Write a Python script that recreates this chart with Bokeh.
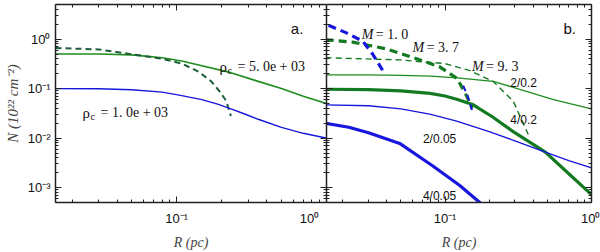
from bokeh.plotting import figure
from bokeh.models import LogAxis, FixedTicker, Range1d, CustomJSTickFormatter
from bokeh.layouts import row
from bokeh.core.properties import value
from bokeh.embed import file_html
from bokeh.resources import INLINE

# ---------------- data ----------------
# panel a
R_a_hi = [0.0155, 0.03, 0.05, 0.08, 0.108, 0.147, 0.23, 0.35, 0.5, 0.7, 1.0]
N_a_hi = [0.50, 0.50, 0.48, 0.42, 0.36, 0.29, 0.21, 0.14, 0.10, 0.07, 0.05]
R_a_hi_dash = [0.0155, 0.03, 0.059, 0.08, 0.108, 0.14, 0.17, 0.195, 0.214, 0.23]
N_a_hi_dash = [0.66, 0.62, 0.46, 0.40, 0.32, 0.22, 0.14, 0.085, 0.056, 0.028]
R_a_lo = [0.0155, 0.03, 0.05, 0.08, 0.108, 0.147, 0.19, 0.23, 0.29, 0.35, 0.5, 0.7, 1.0]
N_a_lo = [0.10, 0.099, 0.095, 0.085, 0.072, 0.06, 0.048, 0.039, 0.030, 0.024, 0.0165, 0.0125, 0.01]

# panel b
R_m1 = [0.0160, 0.021, 0.0274, 0.032, 0.0376]
N_m1 = [1.9, 1.35, 0.91, 0.5, 0.23]
R_m1b = [0.133, 0.143, 0.153]
N_m1b = [0.115, 0.07, 0.036]
R_m37 = [0.0153, 0.0234, 0.040, 0.064, 0.092, 0.121, 0.14, 0.153]
N_m37 = [0.97, 0.87, 0.63, 0.40, 0.275, 0.16, 0.072, 0.04]
R_m93 = [0.0153, 0.049, 0.1, 0.148, 0.213, 0.292, 0.37]
N_m93 = [0.42, 0.38, 0.32, 0.23, 0.14, 0.056, 0.0118]
R_2_02 = [0.0153, 0.03, 0.05, 0.08, 0.121, 0.213, 0.35, 0.55, 1.0]
N_2_02 = [0.19, 0.19, 0.185, 0.178, 0.165, 0.14, 0.09, 0.06, 0.039]
R_4_02 = [0.0153, 0.03, 0.05, 0.079, 0.1, 0.12, 0.156, 0.21, 0.292, 0.484, 0.7, 1.0]
N_4_02 = [0.097, 0.095, 0.09, 0.08, 0.071, 0.061, 0.047, 0.027, 0.0135, 0.0052, 0.0019, 0.00072]
R_2_005 = [0.0153, 0.03, 0.05, 0.08, 0.12, 0.2, 0.3, 0.484, 0.7, 1.0]
N_2_005 = [0.047, 0.045, 0.039, 0.03, 0.022, 0.0135, 0.0088, 0.0052, 0.0035, 0.0025]
R_4_005 = [0.0153, 0.022, 0.03, 0.049, 0.083, 0.126, 0.18]
N_4_005 = [0.020, 0.0166, 0.0128, 0.0078, 0.0027, 0.0011, 0.00045]

# axes
X_LO, X_HI = 0.0155, 1.0
Y_LO, Y_HI = 5e-4, 5.0
X_MAJOR = [0.01, 0.1, 1.0]
X_MINOR = [m * 10.0 ** e for e in (-2, -1) for m in range(2, 10)]
Y_MAJOR = [1e-3, 1e-2, 1e-1, 1.0]
Y_MINOR = [m * 10.0 ** e for e in range(-4, 1) for m in range(2, 10)]

GREEN = "#1f8c1f"
DKGREEN = "#1d5e3a"
GREEN2 = "#137a22"
BLUE = "#1616dc"
SERIF = "Liberation Serif"
SANS = "Liberation Sans"

FMT_CODE = """
const e = Math.round(Math.log10(tick));
const sup = {"-":"\u207b","0":"\u2070","1":"\u00b9","2":"\u00b2","3":"\u00b3",
             "4":"\u2074","5":"\u2075","6":"\u2076","7":"\u2077","8":"\u2078","9":"\u2079"};
let s = "10";
for (const c of String(e)) s += sup[c];
%s
return s;
"""


def style_axis(ax, labels=True):
    ax.axis_line_width = 1.5
    ax.axis_line_color = "#202020"
    ax.major_tick_line_color = "#202020"
    ax.minor_tick_line_color = "#202020"
    ax.major_tick_in = 6
    ax.major_tick_out = 0
    ax.minor_tick_in = 3
    ax.minor_tick_out = 0
    ax.major_label_text_font = SANS
    ax.major_label_text_font_size = "13px"
    ax.major_label_text_color = "#111111"
    if not labels:
        ax.formatter = CustomJSTickFormatter(code='return "";')
        ax.major_label_text_font_size = "1px"
        ax.major_label_standoff = 0


def make_fig(width, mbl, mbr, show_y, pad_last):
    p = figure(width=width, height=252, x_axis_type="log", y_axis_type="log",
               x_range=Range1d(X_LO, X_HI), y_range=Range1d(Y_LO, Y_HI),
               output_backend="svg", toolbar_location=None,
               min_border_left=mbl, min_border_right=mbr,
               min_border_top=4, min_border_bottom=46)
    p.outline_line_color = None
    p.xgrid.visible = False
    p.ygrid.visible = False
    p.background_fill_color = "white"
    p.border_fill_color = "white"

    xa = p.below[0]
    xa.ticker = FixedTicker(ticks=X_MAJOR, minor_ticks=X_MINOR)
    xa.formatter = CustomJSTickFormatter(code=FMT_CODE % (
        'if (e == 0) s += "\u00a0\u00a0";' if pad_last else ""))
    style_axis(xa)
    xa.major_label_standoff = 8
    xa.axis_label = "R (pc)"
    xa.axis_label_text_font = SERIF
    xa.axis_label_text_font_style = "italic"
    xa.axis_label_text_font_size = "14px"
    xa.axis_label_standoff = 6

    ya = p.left[0]
    ya.ticker = FixedTicker(ticks=Y_MAJOR, minor_ticks=Y_MINOR)
    if show_y:
        ya.formatter = CustomJSTickFormatter(code=FMT_CODE % "")
        style_axis(ya)
        ya.major_label_standoff = 5
        ya.axis_label = "N (10\u00b2\u00b2 cm\u207b\u00b2)"
        ya.axis_label_text_font = SERIF
        ya.axis_label_text_font_style = "italic"
        ya.axis_label_text_font_size = "15px"
        ya.axis_label_standoff = 4
    else:
        style_axis(ya, labels=False)

    top = LogAxis(ticker=FixedTicker(ticks=X_MAJOR, minor_ticks=X_MINOR))
    style_axis(top, labels=False)
    p.add_layout(top, "above")
    right = LogAxis(ticker=FixedTicker(ticks=Y_MAJOR, minor_ticks=Y_MINOR))
    style_axis(right, labels=False)
    p.add_layout(right, "right")
    return p


def label(p, x, y, txt, font, size, style="normal", x_off=0, y_off=0, align="left"):
    p.text(x=[x], y=[y], text=[txt], text_font=value(font), text_font_size=size,
           text_font_style=style, text_color="#111111", text_align=align,
           text_baseline="middle", x_offset=x_off, y_offset=y_off + 5)


# ---------------- panel a ----------------
pa = make_fig(326, 55, 0, True, True)
pa.line(R_a_hi, N_a_hi, line_color=GREEN, line_width=1.6)
pa.line(R_a_hi_dash, N_a_hi_dash, line_color=DKGREEN, line_width=2.0, line_dash="6 4")
pa.line(R_a_lo, N_a_lo, line_color=BLUE, line_width=1.4)

label(pa, 0.578, 2.18, "a.", SANS, "15px", y_off=1)
for (x, y, rest) in [(0.193, 0.349, "= 5. 0e + 03"), (0.0235, 0.041, "= 1. 0e + 03")]:
    label(pa, x, y, "\u03c1", SERIF, "15px")
    label(pa, x, y, "c", SERIF, "10px", x_off=8, y_off=4)
    label(pa, x, y, rest, SERIF, "14px", x_off=18)

# ---------------- panel b ----------------
pb = make_fig(274, 0, 9, False, False)
pb.line(R_2_02, N_2_02, line_color=GREEN, line_width=1.3)
pb.line(R_4_02, N_4_02, line_color=GREEN2, line_width=3.2)
pb.line(R_2_005, N_2_005, line_color=BLUE, line_width=1.3)
pb.line(R_4_005, N_4_005, line_color=BLUE, line_width=3.2)
pb.line(R_m93, N_m93, line_color=GREEN2, line_width=1.4, line_dash="6 4")
pb.line(R_m37, N_m37, line_color=GREEN2, line_width=3.2, line_dash="8 5")
pb.line(R_m1, N_m1, line_color=BLUE, line_width=3.2, line_dash="8 5")
pb.line(R_m1b, N_m1b, line_color=BLUE, line_width=2.0, line_dash="6 4")

label(pb, 0.643, 2.18, "b.", SANS, "15px", y_off=1)
for (x, y, rest) in [(0.027, 1.44, "= 1. 0"), (0.060, 0.795, "= 3. 7"), (0.153, 0.318, "= 9. 3")]:
    label(pb, x, y, "M", SERIF, "14px", style="italic", y_off=-2)
    label(pb, x, y, rest, SERIF, "14px", x_off=14, y_off=-2)
label(pb, 0.279, 0.16, "2/0.2", SANS, "12px")
label(pb, 0.279, 0.0295, "4/0.2", SANS, "12px")
label(pb, 0.0706, 0.0123, "2/0.05", SANS, "12px")
label(pb, 0.0706, 0.00087, "4/0.05", SANS, "12px")

layout = row(pa, pb)
open("out.html", "w").write(file_html(layout, INLINE))
